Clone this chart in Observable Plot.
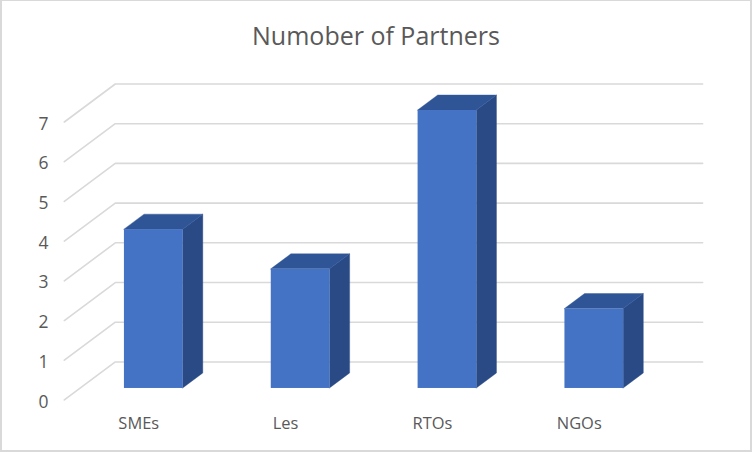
<!DOCTYPE html>
<html><head><meta charset="utf-8">
<script src="https://cdn.jsdelivr.net/npm/d3@7"></script>
<script src="https://cdn.jsdelivr.net/npm/@observablehq/plot@0.6"></script>
<style>
html,body{margin:0;padding:0;background:#fff}
#chart{position:relative;width:752px;height:452px;box-sizing:border-box;border:2px solid #d9d9d9;border-top-width:1px;overflow:hidden;background:#fff}
#title{position:absolute;left:0;top:0;width:100%;text-align:center;font:25px "Open Sans",sans-serif;color:#595959;line-height:69px;white-space:nowrap}
#plot{position:absolute;left:-2px;top:-1px}
svg{display:block}
</style></head><body>
<div id="chart"><div id="title">Numober of Partners</div><div id="plot"></div></div>
<script>
const categories = ["SMEs", "Les", "RTOs", "NGOs"];
const values = [4, 3, 7, 2];
const gridValues = [0, 1, 2, 3, 4, 5, 6, 7];
const depthX = 0.347, depthY = 0.957;   // floor depth in axis units
const barFront = 0.315, barBack = 0.71; // bar depth positions (share of floor depth)
const barHalf = 0.2;

const gridRows = gridValues.flatMap(v => [
  {v, x: 0, y: v},
  {v, x: depthX, y: v + depthY},
  {v, x: categories.length + depthX, y: v + depthY}
]);
const bars = categories.map((c, i) => ({
  c,
  v: values[i],
  l: i + 0.5 - barHalf,
  r: i + 0.5 + barHalf
}));
const fx = barFront * depthX, fy = barFront * depthY;
const bx = barBack * depthX, by = barBack * depthY;
const sideRows = bars.flatMap(b => [
  {c: b.c, x: b.r + fx, y1: fy, y2: b.v + fy},
  {c: b.c, x: b.r + bx, y1: by, y2: b.v + by}
]);
const topRows = bars.flatMap(b => [
  {c: b.c, y: b.v + fy, x1: b.l + fx, x2: b.r + fx},
  {c: b.c, y: b.v + by, x1: b.l + bx, x2: b.r + bx}
]);

const plot = Plot.plot({
  width: 752,
  height: 452,
  marginLeft: 64,
  marginRight: 48,
  marginTop: 82.5,
  marginBottom: 51,
  style: {background: "transparent", fontFamily: "Open Sans, sans-serif"},
  x: {domain: [0, categories.length + depthX], axis: null},
  y: {domain: [0, 8], axis: null},
  marks: [
    Plot.line(gridRows, {x: "x", y: "y", z: "v", dy: -0.5, stroke: "#d9d9d9", strokeWidth: 1.6}),
    Plot.axisY({ticks: gridValues, tickSize: 0, tickPadding: 16, dy: 1.5, tickFormat: d3.format("d"), label: null, color: "#595959", fontSize: 17.5}),
    Plot.axisX({ticks: categories.map((c, i) => i + 0.5), tickFormat: d => categories[d - 0.5], tickSize: 0, tickPadding: 17, dx: 1, dy: -0.5, label: null, color: "#595959", fontSize: 16.5}),
    Plot.areaY(sideRows, {x: "x", y1: "y1", y2: "y2", z: "c", fill: "#2a4a85", stroke: "#2a4a85", strokeWidth: 0.4}),
    Plot.areaX(topRows, {y: "y", x1: "x1", x2: "x2", z: "c", fill: "#2f5597", stroke: "#2f5597", strokeWidth: 0.4}),
    Plot.rect(bars, {x1: d => d.l + fx, x2: d => d.r + fx, y1: fy, y2: d => d.v + fy, fill: "#4472c4"})
  ]
});
document.getElementById("plot").append(plot);
</script>
</body></html>
